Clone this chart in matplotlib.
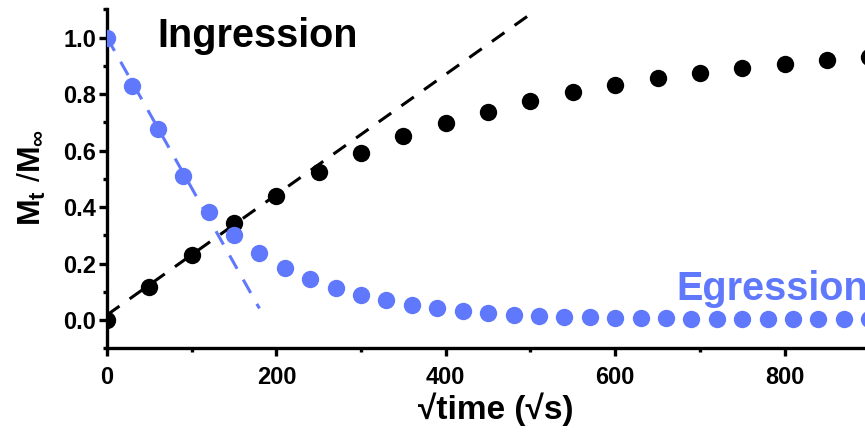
import numpy as np
import matplotlib
matplotlib.use("Agg")
import matplotlib.pyplot as plt
from matplotlib.ticker import MultipleLocator, AutoMinorLocator, FormatStrFormatter

plt.rcParams['font.family'] = ['Liberation Sans', 'DejaVu Sans']
plt.rcParams['font.weight'] = 'bold'
plt.rcParams['mathtext.fontset'] = 'custom'
plt.rcParams['mathtext.rm'] = 'Liberation Sans:bold'
plt.rcParams['mathtext.it'] = 'Liberation Sans:bold'
plt.rcParams['mathtext.bf'] = 'Liberation Sans:bold'
plt.rcParams['lines.scale_dashes'] = False

# ingression data (sqrt time, Mt/Minf)
ing_x = np.arange(0, 901, 50)
ing_y = [0.0, 0.118, 0.230, 0.344, 0.44, 0.525, 0.592, 0.650, 0.697, 0.738,
         0.775, 0.807, 0.832, 0.856, 0.876, 0.893, 0.907, 0.919, 0.931]

# egression data
egr_x = np.arange(0, 901, 30)
egr_y = [1.0, 0.827, 0.677, 0.51, 0.383, 0.30, 0.236, 0.185, 0.145, 0.115,
         0.088, 0.071, 0.055, 0.044, 0.033, 0.024, 0.018, 0.014, 0.011, 0.009,
         0.008, 0.007, 0.006, 0.005, 0.005, 0.004, 0.004, 0.003, 0.003, 0.002,
         0.002]

# linear fits at short times
ing_fit_x = [0, 500]
ing_fit_y = [0.018, 1.083]
egr_fit_x = [0, 180]
egr_fit_y = [1.0, 0.041]

blue = '#6078FC'

fig = plt.figure(figsize=(8.65, 4.37), dpi=100)
ax = fig.add_axes([0.1237, 0.203, 0.8763, 0.7757])

ax.plot(ing_fit_x, ing_fit_y, color='black', lw=2.2, dashes=(11, 9), zorder=2)
ax.plot(ing_x, ing_y, 'o', color='black', ms=12.5, mec='none', zorder=3)
ax.plot(egr_fit_x, egr_fit_y, color=blue, lw=2.2, dashes=(11, 9), zorder=4)
ax.plot(egr_x, egr_y, 'o', color=blue, ms=12.5, mec='none', zorder=5)

ax.set_xlim(0, 895)
ax.set_ylim(-0.1, 1.1)

ax.spines['top'].set_visible(False)
ax.spines['right'].set_visible(False)
for s in ['left', 'bottom']:
    ax.spines[s].set_linewidth(2.4)

ax.xaxis.set_major_locator(MultipleLocator(200))
ax.xaxis.set_minor_locator(AutoMinorLocator(2))
ax.yaxis.set_major_locator(MultipleLocator(0.2))
ax.yaxis.set_minor_locator(AutoMinorLocator(2))
ax.yaxis.set_major_formatter(FormatStrFormatter('%.1f'))

ax.tick_params(which='major', length=6, width=2.4, labelsize=17)
ax.tick_params(which='minor', length=3, width=2.4)
ax.tick_params(axis='x', which='major', pad=7)
ax.tick_params(axis='y', which='major', pad=2)

ax.set_xlabel('\u221atime (\u221as)', fontsize=24, fontweight='bold')
ax.xaxis.set_label_coords(0.513, -0.13)
ax.set_ylabel(r'$\mathbf{M_t}$ /$\mathbf{M_\infty}$', fontsize=23)
ax.yaxis.set_label_coords(-0.078, 0.505)

ax.text(60, 0.965, 'Ingression', fontsize=28.5, fontweight='bold',
        color='black', va='baseline')
ax.text(672, 0.071, 'Egression', fontsize=28.5, fontweight='bold',
        color=blue, va='baseline', clip_on=False)

fig.savefig('out.png', dpi=100)
